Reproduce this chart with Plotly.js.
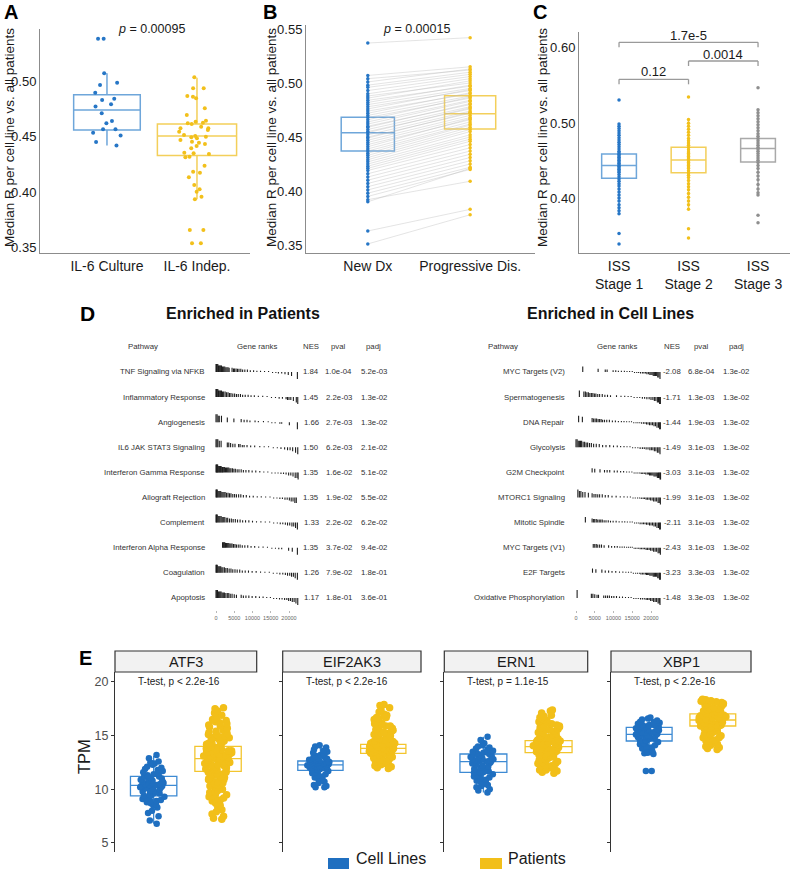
<!DOCTYPE html>
<html><head><meta charset="utf-8">
<script src="https://cdn.plot.ly/plotly-3.0.1.min.js"></script>
<style>html,body{margin:0;padding:0;background:#fff}#chart{width:800px;height:870px}</style>
</head><body><div id="chart"></div>
<script>
// ================= DATA =================
// Panel A
const catsA = ['IL-6 Culture', 'IL-6 Indep.'];
const il6Culture = [0.538, 0.538, 0.507, 0.4985, 0.4964, 0.4895, 0.484, 0.483, 0.479, 0.477, 0.471, 0.464, 0.462, 0.4565, 0.4565, 0.4535, 0.451, 0.445, 0.442];
const il6Indep = [0.5033, 0.4934, 0.4934, 0.4865, 0.4859, 0.4844, 0.4754, 0.4694, 0.4643, 0.4634, 0.4625, 0.4619, 0.4613, 0.4589, 0.4574, 0.4574, 0.4559, 0.4544, 0.4514, 0.4505, 0.4499, 0.4493, 0.4484, 0.4469, 0.4454, 0.4445, 0.4433, 0.4415, 0.4394, 0.4355, 0.4349, 0.4343, 0.4319, 0.4313, 0.4238, 0.4184, 0.4175, 0.4133, 0.4064, 0.4025, 0.4004, 0.3959, 0.3935, 0.3659, 0.3659, 0.3539, 0.3539];
const aQ1 = [0.456, 0.433], aMed = [0.474, 0.4505], aQ3 = [0.4877, 0.4613], aLo = [0.442, 0.3935], aHi = [0.507, 0.503];
const pA = '<i>p</i> = 0.00095';

// Panel B (paired)
const catsB = ['New Dx', 'Progressive Dis.'];
const newDx = [0.537, 0.507, 0.504, 0.501, 0.498, 0.496, 0.493, 0.490, 0.488, 0.486, 0.484, 0.482, 0.480, 0.478, 0.476, 0.474, 0.472, 0.470, 0.468, 0.466, 0.464, 0.462, 0.460, 0.459, 0.457, 0.455, 0.454, 0.452, 0.450, 0.449, 0.447, 0.445, 0.443, 0.441, 0.439, 0.437, 0.435, 0.433, 0.431, 0.429, 0.427, 0.425, 0.423, 0.421, 0.419, 0.416, 0.413, 0.410, 0.407, 0.404, 0.401, 0.398, 0.395, 0.392, 0.390, 0.363, 0.351];
const progDis = [0.542, 0.515, 0.512, 0.513, 0.510, 0.508, 0.506, 0.504, 0.500, 0.502, 0.497, 0.498, 0.495, 0.493, 0.494, 0.490, 0.491, 0.488, 0.486, 0.487, 0.484, 0.483, 0.480, 0.481, 0.478, 0.476, 0.477, 0.474, 0.472, 0.473, 0.470, 0.468, 0.466, 0.467, 0.464, 0.462, 0.461, 0.459, 0.457, 0.455, 0.452, 0.450, 0.448, 0.446, 0.443, 0.440, 0.437, 0.434, 0.431, 0.428, 0.425, 0.422, 0.420, 0.409, 0.421, 0.383, 0.378];
const bQ1 = [0.437, 0.4574], bMed = [0.454, 0.4716], bQ3 = [0.4682, 0.4882], bLo = [0.390, 0.420], bHi = [0.507, 0.515];
const pB = '<i>p</i> = 0.00015';

// Panel C
const catsC = ['ISS<br>Stage 1', 'ISS<br>Stage 2', 'ISS<br>Stage 3'];
const stage1 = [0.531, 0.499, 0.496, 0.493, 0.490, 0.487, 0.484, 0.481, 0.478, 0.475, 0.472, 0.469, 0.466, 0.463, 0.461, 0.459, 0.457, 0.455, 0.453, 0.451, 0.449, 0.447, 0.445, 0.443, 0.441, 0.439, 0.437, 0.435, 0.432, 0.429, 0.426, 0.423, 0.420, 0.417, 0.413, 0.409, 0.405, 0.401, 0.397, 0.392, 0.388, 0.384, 0.380, 0.354, 0.340];
const stage2 = [0.535, 0.505, 0.500, 0.496, 0.492, 0.488, 0.484, 0.480, 0.477, 0.474, 0.471, 0.468, 0.465, 0.462, 0.460, 0.458, 0.456, 0.454, 0.452, 0.450, 0.448, 0.446, 0.444, 0.442, 0.440, 0.437, 0.434, 0.431, 0.428, 0.424, 0.420, 0.416, 0.412, 0.407, 0.402, 0.397, 0.392, 0.386, 0.360, 0.348];
const stage3 = [0.547, 0.518, 0.514, 0.510, 0.506, 0.502, 0.498, 0.494, 0.490, 0.486, 0.483, 0.480, 0.477, 0.474, 0.471, 0.468, 0.466, 0.463, 0.460, 0.457, 0.454, 0.451, 0.448, 0.444, 0.440, 0.435, 0.430, 0.425, 0.419, 0.413, 0.408, 0.405, 0.378, 0.368];
const cQ1 = [0.4271, 0.4345, 0.4488], cMed = [0.4439, 0.4513, 0.4666], cQ3 = [0.4593, 0.4682, 0.4798], cLo = [0.380, 0.386, 0.405], cHi = [0.499, 0.505, 0.518];
const cCompA = [0, 1, 0], cCompB = [2, 2, 1], cCompP = ['1.7e-5', '0.0014', '0.12'];

// Panel D
const pathP = ['TNF Signaling via NFKB', 'Inflammatory Response', 'Angiogenesis', 'IL6 JAK STAT3 Signaling', 'Interferon Gamma Response', 'Allograft Rejection', 'Complement', 'Interferon Alpha Response', 'Coagulation', 'Apoptosis'];
const nesP = ['1.84', '1.45', '1.66', '1.50', '1.35', '1.35', '1.33', '1.35', '1.26', '1.17'];
const pvalP = ['1.0e-04', '2.2e-03', '2.7e-03', '6.2e-03', '1.6e-02', '1.9e-02', '2.2e-02', '3.7e-02', '7.9e-02', '1.8e-01'];
const padjP = ['5.2e-03', '1.3e-02', '1.3e-02', '2.1e-02', '5.1e-02', '5.5e-02', '6.2e-02', '9.4e-02', '1.8e-01', '3.6e-01'];
const pathC = ['MYC Targets (V2)', 'Spermatogenesis', 'DNA Repair', 'Glycolysis', 'G2M Checkpoint', 'MTORC1 Signaling', 'Mitotic Spindle', 'MYC Targets (V1)', 'E2F Targets', 'Oxidative Phosphorylation'];
const nesC = ['-2.08', '-1.71', '-1.44', '-1.49', '-3.03', '-1.99', '-2.11', '-2.43', '-3.23', '-1.48'];
const pvalC = ['6.8e-04', '1.3e-03', '1.9e-03', '3.1e-03', '3.1e-03', '3.1e-03', '3.1e-03', '3.1e-03', '3.3e-03', '3.3e-03'];
const padjC = ['1.3e-02', '1.3e-02', '1.3e-02', '1.3e-02', '1.3e-02', '1.3e-02', '1.3e-02', '1.3e-02', '1.3e-02', '1.3e-02'];
const rankTicks = [0, 5000, 10000, 15000, 20000];
// ranked-list statistic read at a few ranks (bar height of a gene at that rank)
const statRanks = [0, 1000, 2000, 3000, 4000, 5000, 6000, 8000, 10000, 12000, 14000, 16000, 18000, 19000, 20000, 21000, 22000, 22500];
const statValues = [8, 6.5, 5.5, 4.8, 4.2, 3.6, 3.2, 2.4, 1.8, 1.3, 1.0, -1.0, -1.6, -2.2, -3.0, -4.0, -5.5, -7.0];
// gene positions (ranks) of each pathway
const ranksP = [
  [0,150,300,500,700,900,1100,1300,1500,1800,2100,2400,2700,3000,3300,3600,4400,4800,5100,5500,5900,6300,6800,7300,7900,8600,9400,10300,11200,12200,13300,14400,15500,16400,17100,18000,18900,19800,20700,22300],
  [0,120,300,500,700,900,1200,1500,1800,2100,2500,2900,3300,3700,4100,4600,5100,5600,6100,6700,7300,8000,8800,9600,10500,11600,12800,14000,15200,16300,17300,18200,19200,19600,20000,20500,21200,22000,22400],
  [0,300,600,900,1500,3100,4900,6900,7700,8500,9300,10700,11600,13000,14300,15300,16200,17500,18000,20100,22300],
  [0,250,500,900,1400,3100,3500,4000,4600,5200,6200,6600,7200,7700,8500,9500,10600,12000,13200,14400,15700,16800,17800,18800,19600,20300,21000,21800,22400],
  [0,150,300,450,600,800,1000,1200,1400,1600,1800,2000,2300,2600,2900,3200,3500,3800,4100,4500,4900,5300,5800,6300,6900,7500,8200,9000,9900,10900,12000,13100,14200,15300,16200,17000,17800,18500,19200,19900,20500,21100,21700,22200,22500],
  [0,150,350,550,800,1050,1300,1600,1900,2200,2500,2900,3300,3700,4100,4600,5100,5600,6200,6800,7500,8300,9200,10200,11300,12400,13600,14800,15800,16700,17500,18200,18900,19500,20100,20600,21100,21600,22000],
  [0,150,350,600,850,1100,1400,1700,2000,2400,2800,3200,3700,4200,4700,5300,5900,6600,7300,8100,9000,10000,11100,12300,13500,14700,15800,16800,17600,18300,19000,19600,20200,20800,21300,21800,22300],
  [1800,2000,2200,2400,2600,2900,3200,3500,3800,4100,4400,4800,5200,5600,6100,6600,7200,7900,8700,9600,10600,11700,12900,14100,15300,16300,17200,18000,19900,20900,22300],
  [0,150,350,550,800,1050,1300,1600,1900,2300,2700,3100,3600,4100,4600,5200,5800,6500,7200,8000,8900,9900,11000,12200,13400,14600,15700,16700,17500,18300,19000,19600,20200,20700,21200,21700,22300],
  [0,200,400,650,900,1150,1400,1700,2000,2300,2700,3100,3500,3900,4400,5000,5600,6900,7500,8200,9000,9900,10900,11900,12900,13900,14900,15800,16600,17400,18100,18800,19400,19900,20400,20900,21400,21900,22400]
];
const ranksC = [
  [1800,5900,7800,8300,9900,10600,11300,12100,12900,13600,14300,15000,15600,16200,16700,17200,17700,18100,18500,18900,19300,19700,20000,20300,20600,20900,21200,21500,21800,22100,22400],
  [900,2100,2500,2900,3300,3700,4100,4500,4900,5300,5800,6300,7000,7700,8400,9200,10800,12000,13000,13900,14700,15500,16300,17000,17700,18300,18900,19500,20000,20500,20900,21300,21700,22000,22300,22500],
  [700,1700,4300,4700,5100,5500,5900,6300,6700,7100,7600,8200,8900,9700,10500,11300,12100,12800,13500,14200,14800,15400,16000,16500,17000,17500,18000,18400,18800,19200,19600,20000,20400,20800,21200,21600,22000,22300,22500],
  [0,300,600,900,1200,1500,1900,2300,2700,3100,3600,4100,4700,5400,6200,7100,8000,9000,10000,11000,11900,12800,13600,14400,15100,15800,16500,17100,17700,18200,18700,19200,19700,20100,20500,20900,21300,21700,22100,22400],
  [4300,5000,6400,7600,8300,9000,10200,11000,11900,12700,13500,14200,14900,15500,16000,16500,17000,17400,17800,18200,18600,19000,19300,19600,19900,20200,20500,20800,21100,21400,21700,22000,22200,22400,22550],
  [500,900,1300,1800,2400,3300,4300,4800,5300,5800,6300,7000,7800,8600,9600,10700,11800,12800,13700,14500,15200,15800,16400,16900,17400,17900,18300,18700,19100,19500,19900,20300,20700,21100,21500,21900,22200,22500],
  [2500,4300,4700,5000,5400,5800,6200,6600,7000,7500,8000,8600,9200,9900,10700,11500,12300,13000,13700,14400,15000,15600,16100,16600,17100,17600,18000,18400,18800,19200,19600,20000,20400,20800,21200,21600,22000,22300,22500],
  [4600,5000,5400,5800,6300,6800,7500,8700,9500,10300,11000,11700,12300,12900,13500,14000,14500,15000,15500,15900,16300,16700,17100,17500,17900,18300,18700,19100,19500,19900,20300,20700,21100,21500,21900,22200,22500],
  [4400,5300,6900,7800,8700,9600,10600,11600,12500,13300,14000,14700,15300,15900,16400,16900,17300,17700,18100,18500,18800,19100,19400,19700,20000,20300,20600,20900,21200,21500,21800,22100,22300,22500],
  [300,4100,4500,5000,5600,6000,7400,7900,8400,8900,9500,10100,10800,11600,12400,13200,14000,14700,15400,16000,16600,17200,17700,18200,18700,19100,19500,19900,20300,20700,21100,21500,21900,22200,22400]
];

// Panel E
const genes = ['ATF3', 'EIF2AK3', 'ERN1', 'XBP1'];
const groupsE = ['Cell Lines', 'Patients'];
const tTests = ['T-test, p &lt; 2.2e-16', 'T-test, p &lt; 2.2e-16', 'T-test, p = 1.1e-15', 'T-test, p &lt; 2.2e-16'];
const tpmTicks = [5, 10, 15, 20];
const atf3Cell = [13.2, 12.9, 12.6, 12.5, 12.4, 12.3, 12.1, 12.0, 11.9, 11.8, 11.7, 11.6, 11.5, 11.4, 11.3, 11.2, 11.2, 11.1, 11.0, 11.0, 10.9, 10.9, 10.8, 10.7, 10.7, 10.6, 10.6, 10.5, 10.5, 10.4, 10.4, 10.3, 10.3, 10.2, 10.2, 10.1, 10.1, 10.0, 9.9, 9.9, 9.8, 9.8, 9.7, 9.6, 9.6, 9.5, 9.4, 9.4, 9.3, 9.2, 9.1, 9.0, 8.9, 8.9, 8.8, 8.7, 8.6, 8.5, 8.3, 8.0, 7.8, 7.5, 7.1, 6.8];
const atf3Pat = [17.6, 17.5, 17.3, 17.1, 16.9, 16.7, 16.6, 16.5, 16.4, 16.3, 16.2, 16.1, 16.0, 15.9, 15.8, 15.7, 15.6, 15.5, 15.4, 15.3, 15.2, 15.1, 15.0, 14.9, 14.8, 14.8, 14.7, 14.6, 14.5, 14.4, 14.3, 14.3, 14.2, 14.1, 14.0, 13.9, 13.9, 13.8, 13.7, 13.6, 13.6, 13.5, 13.4, 13.3, 13.3, 13.2, 13.1, 13.0, 13.0, 12.9, 12.9, 12.8, 12.7, 12.6, 12.6, 12.5, 12.4, 12.3, 12.3, 12.2, 12.1, 12.0, 12.0, 11.9, 11.8, 11.7, 11.6, 11.6, 11.5, 11.4, 11.3, 11.2, 11.1, 11.0, 10.9, 10.8, 10.7, 10.6, 10.5, 10.4, 10.3, 10.2, 10.1, 10.0, 9.9, 9.8, 9.7, 9.6, 9.5, 9.4, 9.3, 9.2, 9.1, 9.0, 8.9, 8.7, 8.5, 8.3, 8.1, 7.9, 7.7, 7.5, 7.3, 7.2, 12.9, 13.4, 12.2, 13.7, 11.9, 14.3, 12.6, 13.1, 11.4, 14.8, 12.4, 13.3, 10.9, 15.1, 12.8, 13.6];
const eif2ak3Cell = [14.1, 14.0, 13.9, 13.7, 13.6, 13.5, 13.4, 13.3, 13.2, 13.1, 13.0, 12.95, 12.9, 12.85, 12.8, 12.75, 12.7, 12.65, 12.6, 12.6, 12.55, 12.5, 12.5, 12.45, 12.4, 12.4, 12.35, 12.3, 12.3, 12.25, 12.2, 12.2, 12.15, 12.1, 12.1, 12.05, 12.0, 12.0, 11.95, 11.9, 11.85, 11.8, 11.75, 11.7, 11.6, 11.5, 11.4, 11.3, 11.2, 11.1, 11.0, 10.9, 10.8, 10.7, 10.6, 10.4, 10.3, 10.2, 10.2];
const eif2ak3Pat = [17.9, 17.8, 17.6, 17.4, 17.2, 17.0, 16.9, 16.8, 16.7, 16.6, 16.5, 16.4, 16.3, 16.2, 16.1, 16.0, 15.9, 15.8, 15.7, 15.6, 15.5, 15.4, 15.3, 15.2, 15.1, 15.0, 14.9, 14.8, 14.7, 14.6, 14.5, 14.45, 14.4, 14.35, 14.3, 14.25, 14.2, 14.2, 14.15, 14.1, 14.1, 14.05, 14.0, 14.0, 13.95, 13.9, 13.9, 13.85, 13.8, 13.8, 13.8, 13.75, 13.7, 13.7, 13.65, 13.6, 13.6, 13.55, 13.5, 13.5, 13.45, 13.4, 13.4, 13.35, 13.3, 13.3, 13.25, 13.2, 13.15, 13.1, 13.0, 12.9, 12.8, 12.7, 12.6, 12.5, 12.4, 12.3, 12.2, 12.1, 12.0, 11.95, 16.3, 15.9, 15.5, 15.1, 14.7, 14.3, 12.6, 12.9, 13.2, 12.3, 16.7, 15.3, 14.6, 12.4];
const ern1Cell = [14.9, 14.6, 14.3, 14.1, 14.0, 13.9, 13.8, 13.7, 13.6, 13.5, 13.45, 13.4, 13.35, 13.3, 13.2, 13.1, 13.0, 12.95, 12.9, 12.85, 12.8, 12.75, 12.7, 12.65, 12.6, 12.55, 12.5, 12.45, 12.4, 12.3, 12.2, 12.1, 12.0, 11.9, 11.8, 11.7, 11.65, 11.6, 11.55, 11.5, 11.4, 11.3, 11.2, 11.1, 11.0, 10.9, 10.8, 10.7, 10.6, 10.4, 10.3, 10.2, 10.0, 9.9, 9.7, 13.3, 12.6, 12.0, 11.6, 10.5, 12.8, 13.1];
const ern1Pat = [17.4, 17.3, 17.1, 16.9, 16.8, 16.7, 16.6, 16.5, 16.4, 16.3, 16.2, 16.1, 16.0, 15.9, 15.8, 15.7, 15.6, 15.5, 15.4, 15.3, 15.2, 15.1, 15.0, 14.9, 14.8, 14.75, 14.7, 14.6, 14.55, 14.5, 14.45, 14.4, 14.35, 14.3, 14.25, 14.2, 14.15, 14.1, 14.05, 14.0, 14.0, 13.95, 13.9, 13.9, 13.85, 13.8, 13.75, 13.7, 13.65, 13.6, 13.55, 13.5, 13.45, 13.4, 13.35, 13.3, 13.2, 13.1, 13.0, 12.9, 12.8, 12.7, 12.6, 12.5, 12.4, 12.3, 12.2, 12.1, 12.0, 11.9, 11.8, 11.7, 11.6, 11.5, 15.9, 15.3, 14.8, 14.2, 13.6, 13.0, 12.4, 11.8, 16.4, 12.7, 15.6, 12.2, 16.0, 15.0, 13.2, 12.0];
const xbp1Cell = [16.7, 16.6, 16.5, 16.4, 16.3, 16.25, 16.2, 16.1, 16.05, 16.0, 15.95, 15.9, 15.85, 15.8, 15.75, 15.7, 15.65, 15.6, 15.55, 15.5, 15.45, 15.4, 15.35, 15.3, 15.25, 15.2, 15.15, 15.1, 15.05, 15.0, 14.95, 14.9, 14.85, 14.8, 14.75, 14.7, 14.6, 14.55, 14.5, 14.4, 14.3, 14.2, 14.1, 14.0, 13.9, 13.8, 13.7, 13.6, 13.5, 13.45, 13.4, 13.35, 13.3, 11.7, 11.7, 15.3, 15.0, 14.7, 15.6, 16.0];
const xbp1Pat = [18.4, 18.35, 18.3, 18.25, 18.2, 18.15, 18.1, 18.0, 17.9, 17.8, 17.7, 17.6, 17.5, 17.4, 17.3, 17.2, 17.1, 17.05, 17.0, 16.95, 16.9, 16.85, 16.8, 16.75, 16.7, 16.65, 16.6, 16.55, 16.5, 16.5, 16.45, 16.4, 16.4, 16.35, 16.3, 16.25, 16.2, 16.15, 16.1, 16.05, 16.0, 15.95, 15.9, 15.85, 15.8, 15.7, 15.6, 15.5, 15.4, 15.3, 15.2, 15.1, 15.0, 14.9, 14.8, 14.7, 14.6, 14.5, 14.4, 14.3, 14.2, 14.1, 14.0, 13.9, 13.8, 13.7, 17.9, 17.5, 17.2, 16.9, 16.6, 16.3, 16.0, 15.7, 15.4, 15.1, 14.8, 14.5, 18.2, 18.0, 17.0, 16.7, 16.2, 15.9];
const cellE = [atf3Cell, eif2ak3Cell, ern1Cell, xbp1Cell];
const patE = [atf3Pat, eif2ak3Pat, ern1Pat, xbp1Pat];
const eQ1Cell = [9.38, 11.77, 11.58, 14.5], eMedCell = [10.37, 12.27, 12.58, 15.12], eQ3Cell = [11.21, 12.64, 13.29, 15.78], eLoCell = [6.8, 10.4, 9.7, 13.3], eHiCell = [13.1, 13.9, 14.9, 16.7];
const eQ1Pat = [11.68, 13.35, 13.42, 15.9], eMedPat = [12.86, 13.82, 13.98, 16.46], eQ3Pat = [14.0, 14.19, 14.53, 17.02], eLoPat = [8.2, 12.1, 11.8, 14.2], eHiPat = [17.5, 15.4, 16.2, 18.4];

// ================= STYLE / LAYOUT HELPERS =================
const F = 'Liberation Sans, Arial, Helvetica, sans-serif';
const PX = x => x / 800, PY = y => 1 - y / 870;
const BLUE = '#2676c6', YEL = '#f2c01b', GREY = '#8f8f8f';
const BLUE_BOX = '#6ea6da', YEL_BOX = '#f3cf5a', GREY_BOX = '#a9a9a9';

const traces = [];
const annotations = [];
const shapes = [];

function ann(text, x, y, o) {
  o = o || {};
  annotations.push(Object.assign({
    text, x: PX(x), y: PY(y), xref: 'paper', yref: 'paper', showarrow: false,
    xanchor: 'center', yanchor: 'middle',
    font: { family: F, size: o.size || 12, color: o.color || '#1a1a1a' }
  }, o.extra || {}));
}
function preBox(xa, ya, cat, q1, med, q3, lo, hi, color, width, lw) {
  return { type: 'box', xaxis: xa, yaxis: ya, x: [cat], q1: [q1], median: [med], q3: [q3],
    lowerfence: [lo], upperfence: [hi], width: width, whiskerwidth: 0, boxpoints: false,
    line: { color: color, width: lw }, fillcolor: 'rgba(255,255,255,0)', showlegend: false, hoverinfo: 'skip' };
}
function jitterPts(xa, ya, cat, vals, color, size, width, jitter) {
  return { type: 'box', xaxis: xa, yaxis: ya, x: vals.map(() => cat), y: vals, boxpoints: 'all',
    jitter: jitter, pointpos: 0, width: width, whiskerwidth: 0,
    line: { width: 0, color: 'rgba(0,0,0,0)' }, fillcolor: 'rgba(0,0,0,0)',
    marker: { color: color, size: size, line: { width: 0 } }, showlegend: false, hoverinfo: 'skip' };
}
function colPts(xa, ya, cat, vals, color, size) {
  return { type: 'scatter', mode: 'markers', xaxis: xa, yaxis: ya, x: vals.map(() => cat), y: vals,
    marker: { color: color, size: size, line: { width: 0 } }, showlegend: false, hoverinfo: 'skip' };
}

// ---------- Panel A ----------
const colA = [BLUE, YEL], boxColA = [BLUE_BOX, YEL_BOX], widthA = [0.74, 0.88], jitA = [0.55, 0.5];
const dataA = [il6Culture, il6Indep];
catsA.forEach((c, i) => {
  traces.push(preBox('x', 'y', c, aQ1[i], aMed[i], aQ3[i], aLo[i], aHi[i], boxColA[i], widthA[i], 1.5));
  traces.push(jitterPts('x', 'y', c, dataA[i], colA[i], 4, widthA[i], jitA[i]));
});

// ---------- Panel B ----------
const lx = [], ly = [];
newDx.forEach((v, i) => { lx.push(catsB[0], catsB[1], null); ly.push(v, progDis[i], null); });
traces.push({ type: 'scatter', mode: 'lines', xaxis: 'x2', yaxis: 'y2', x: lx, y: ly,
  line: { color: 'rgba(185,185,185,0.55)', width: 0.7 }, showlegend: false, hoverinfo: 'skip' });
const colB = [BLUE, YEL], boxColB = [BLUE_BOX, YEL_BOX], widthB = [0.52, 0.5];
const dataB = [newDx, progDis];
catsB.forEach((c, i) => {
  traces.push(preBox('x2', 'y2', c, bQ1[i], bMed[i], bQ3[i], bLo[i], bHi[i], boxColB[i], widthB[i], 1.5));
  traces.push(colPts('x2', 'y2', c, dataB[i], colB[i], 3.5));
});

// ---------- Panel C ----------
const colC = [BLUE, YEL, GREY], boxColC = [BLUE_BOX, YEL_BOX, GREY_BOX];
const dataC = [stage1, stage2, stage3];
catsC.forEach((c, i) => {
  traces.push(preBox('x3', 'y3', c, cQ1[i], cMed[i], cQ3[i], cLo[i], cHi[i], boxColC[i], 0.5, 1.5));
  traces.push(colPts('x3', 'y3', c, dataC[i], colC[i], 3.5));
});
// comparison brackets
const brY = [42.3, 61, 79.3], brTxt = [35, 54, 71.5];
cCompP.forEach((p, k) => {
  const a = cCompA[k], b = cCompB[k];
  const base = { type: 'line', xref: 'x3', yref: 'paper', line: { color: '#9a9a9a', width: 1.3 } };
  shapes.push(Object.assign({}, base, { x0: a, x1: b, y0: PY(brY[k]), y1: PY(brY[k]) }));
  shapes.push(Object.assign({}, base, { x0: a, x1: a, y0: PY(brY[k]), y1: PY(brY[k] + 5) }));
  shapes.push(Object.assign({}, base, { x0: b, x1: b, y0: PY(brY[k]), y1: PY(brY[k] + 5) }));
  annotations.push({ text: p, xref: 'x3', yref: 'paper', x: (a + b) / 2, y: PY(brTxt[k]), showarrow: false,
    xanchor: 'center', yanchor: 'middle', font: { family: F, size: 13, color: '#1a1a1a' } });
});

// ---------- Panel D ----------
const ROW_PX = 25.1;
function statAt(r) {
  let best = 0;
  statRanks.forEach((s, j) => { if (Math.abs(s - r) < Math.abs(statRanks[best] - r)) best = j; });
  return statValues[best];
}
function barcode(ranks, xa, ya) {
  const x = [], y = [];
  ranks.forEach((row, i) => row.forEach(r => {
    x.push(r, r, null); y.push(-i, -i + statAt(r) / ROW_PX, null);
  }));
  return { type: 'scatter', mode: 'lines', xaxis: xa, yaxis: ya, x, y,
    line: { color: '#1e1e1e', width: 1.1 }, showlegend: false, hoverinfo: 'skip' };
}
traces.push(barcode(ranksP, 'x4', 'y4'));
traces.push(barcode(ranksC, 'x5', 'y5'));

function table(paths, nes, pval, padj, cols) {
  const hs = { size: 7.8, color: '#333' };
  ann('Pathway', cols.pathHead, 347, hs);
  ann('Gene ranks', cols.genes, 347, hs);
  ann('NES', cols.nes, 347, hs);
  ann('pval', cols.pval, 347, hs);
  ann('padj', cols.padj, 347, hs);
  paths.forEach((p, i) => {
    const y = 372 + i * ROW_PX;
    ann(p, cols.pathRight, y, { size: 7.8, color: '#333', extra: { xanchor: 'right' } });
    ann(nes[i], cols.nes, y, hs);
    ann(pval[i], cols.pval, y, hs);
    ann(padj[i], cols.padj, y, hs);
  });
}
table(pathP, nesP, pvalP, padjP, { pathHead: 142.5, pathRight: 207, genes: 257, nes: 311, pval: 338.5, padj: 373.5 });
table(pathC, nesC, pvalC, padjC, { pathHead: 503, pathRight: 567, genes: 617, nes: 672, pval: 701, padj: 736 });
ann('<b>Enriched in Patients</b>', 243, 313, { size: 16, color: '#111' });
ann('<b>Enriched in Cell Lines</b>', 610, 313, { size: 16, color: '#111' });

// ---------- Panel E ----------
const facetL = [115, 282.7, 444.3, 611], facetR = [256.7, 421, 587.7, 751];
const eWidth = 0.72;
genes.forEach((g, k) => {
  const xa = 'x' + (6 + k), ya = 'y' + (6 + k);
  traces.push(preBox(xa, ya, groupsE[0], eQ1Cell[k], eMedCell[k], eQ3Cell[k], eLoCell[k], eHiCell[k], '#3d8ad3', eWidth, 1.3));
  traces.push(preBox(xa, ya, groupsE[1], eQ1Pat[k], eMedPat[k], eQ3Pat[k], eLoPat[k], eHiPat[k], '#f3c52e', eWidth, 1.3));
  traces.push(jitterPts(xa, ya, groupsE[0], cellE[k], '#1f6fc0', 6.5, eWidth, 0.62));
  traces.push(jitterPts(xa, ya, groupsE[1], patE[k], '#f2bf19', 7.5, eWidth, 0.66));
  shapes.push({ type: 'rect', xref: 'paper', yref: 'paper', x0: PX(facetL[k]), x1: PX(facetR[k]),
    y0: PY(672), y1: PY(651), fillcolor: '#f2f2f2', line: { color: '#333', width: 1.2 }, layer: 'below' });
  ann(g, (facetL[k] + facetR[k]) / 2, 661.5, { size: 14.5, color: '#1a1a1a' });
  ann(tTests[k], facetL[k] + 21, 681, { size: 10, color: '#222', extra: { xanchor: 'left' } });
});
ann('TPM', 84, 757, { size: 16.5, color: '#1a1a1a', extra: { textangle: -90 } });
// legend
shapes.push({ type: 'rect', xref: 'paper', yref: 'paper', x0: PX(328), x1: PX(349), y0: PY(869), y1: PY(858), fillcolor: '#1f6fc0', line: { width: 0 } });
shapes.push({ type: 'rect', xref: 'paper', yref: 'paper', x0: PX(480), x1: PX(502), y0: PY(869), y1: PY(858), fillcolor: '#f2bf19', line: { width: 0 } });
ann('Cell Lines', 354, 858.5, { size: 16, color: '#1a1a1a', extra: { xanchor: 'left' } });
ann('Patients', 506, 858.5, { size: 16, color: '#1a1a1a', extra: { xanchor: 'left' } });

// ---------- letters, titles ----------
ann('<b>A</b>', 2, 12, { size: 20, color: '#000', extra: { xanchor: 'left' } });
ann('<b>B</b>', 261, 12, { size: 20, color: '#000', extra: { xanchor: 'left' } });
ann('<b>C</b>', 531, 12, { size: 20, color: '#000', extra: { xanchor: 'left' } });
ann('<b>D</b>', 78, 313, { size: 21, color: '#000', extra: { xanchor: 'left' } });
ann('<b>E</b>', 77, 658, { size: 20, color: '#000', extra: { xanchor: 'left' } });
const yTitle = 'Median R per cell line vs. all patients';
ann(yTitle, 9, 138, { size: 13.5, extra: { textangle: -90 } });
ann(yTitle, 271, 138, { size: 13.5, extra: { textangle: -90 } });
ann(yTitle, 542, 138, { size: 13.5, extra: { textangle: -90 } });
ann(pA, 151, 29, { size: 12.5 });
ann(pB, 416, 29, { size: 12.5 });

// ================= AXES =================
const fmt2 = v => v.toFixed(2);
function catAxis(l, r, range, cats, anchor) {
  return { domain: [PX(l), PX(r)], range: range, type: 'category', categoryorder: 'array', categoryarray: cats,
    anchor: anchor, showline: true, linecolor: '#8c8c8c', linewidth: 1, ticks: '', showgrid: false, zeroline: false,
    tickfont: { family: F, size: 14, color: '#1a1a1a' }, fixedrange: true };
}
function valAxis(b, t, range, vals, anchor) {
  return { domain: [PY(b), PY(t)], range: range, anchor: anchor, showline: true, linecolor: '#8c8c8c', linewidth: 1,
    ticks: '', showgrid: false, zeroline: false, tickvals: vals, ticktext: vals.map(fmt2),
    tickfont: { family: F, size: 13, color: '#1a1a1a' }, fixedrange: true };
}
const layout = {
  width: 800, height: 870, margin: { l: 0, r: 0, t: 0, b: 0 }, paper_bgcolor: '#fff', plot_bgcolor: 'rgba(0,0,0,0)',
  showlegend: false, boxmode: 'overlay', hovermode: false, font: { family: F },
  xaxis: catAxis(40, 250, [-0.744, 1.589], catsA, 'y'),
  yaxis: valAxis(253, 29, [0.3452, 0.5468], [0.35, 0.40, 0.45, 0.50], 'x'),
  xaxis2: catAxis(306, 535, [-0.604, 1.634], catsB, 'y2'),
  yaxis2: valAxis(253, 25, [0.3426, 0.5537], [0.35, 0.40, 0.45, 0.50, 0.55], 'x2'),
  xaxis3: catAxis(579, 790, [-0.576, 2.46], catsC, 'y3'),
  yaxis3: valAxis(253, 32, [0.328, 0.6211], [0.40, 0.50, 0.60], 'x3'),
  annotations: annotations, shapes: shapes
};
const rankAxis = (l, r, anchor) => ({ domain: [PX(l), PX(r)], range: [-600, 23000], anchor: anchor, showline: false,
  showgrid: false, zeroline: false, ticks: 'outside', ticklen: 2, tickwidth: 0.6, tickcolor: '#888',
  tickvals: rankTicks, ticktext: rankTicks.map(String), tickfont: { family: F, size: 5.5, color: '#666' }, fixedrange: true });
layout.xaxis4 = rankAxis(213.81, 299.95, 'y4');
layout.xaxis5 = rankAxis(573.75, 662.25, 'y5');
const rowAxis = anchor => ({ domain: [PY(610.45), PY(359.45)], range: [-9.5, 0.5], anchor: anchor, visible: false, fixedrange: true });
layout.yaxis4 = rowAxis('x4');
layout.yaxis5 = rowAxis('x5');
genes.forEach((g, k) => {
  layout['xaxis' + (6 + k)] = { domain: [PX(facetL[k]), PX(facetR[k])], range: [-0.6, 1.6], type: 'category',
    categoryorder: 'array', categoryarray: groupsE, anchor: 'y' + (6 + k), visible: false, fixedrange: true };
  layout['yaxis' + (6 + k)] = { domain: [PY(852), PY(672)], range: [4.16, 20.93], anchor: 'x' + (6 + k),
    showline: true, linecolor: '#333', linewidth: 1, ticks: 'outside', ticklen: 3, tickcolor: '#333', tickwidth: 1,
    tickvals: tpmTicks, showticklabels: k === 0, showgrid: false, zeroline: false,
    tickfont: { family: F, size: 12.5, color: '#4d4d4d' }, fixedrange: true };
});

Plotly.newPlot('chart', traces, layout, { staticPlot: true, displayModeBar: false });
</script>
</body></html>
